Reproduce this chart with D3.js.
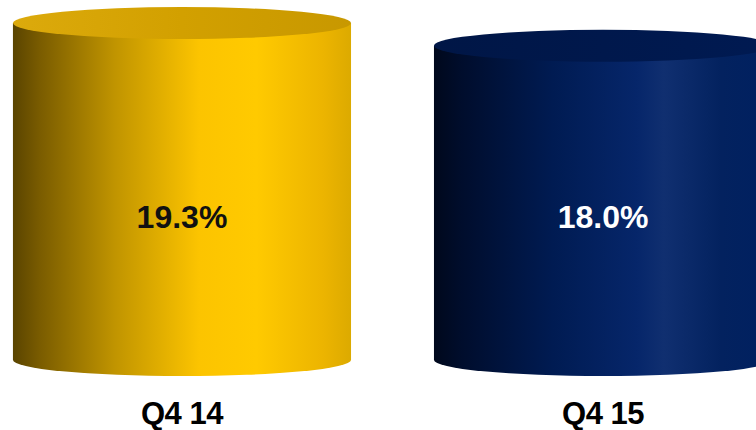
<!DOCTYPE html>
<html>
<head>
<meta charset="utf-8">
<script src="https://cdn.jsdelivr.net/npm/d3@7"></script>
<style>
  html, body { margin: 0; padding: 0; background: #ffffff; }
  svg { display: block; }
</style>
</head>
<body>
<svg id="chart" width="756" height="430"></svg>
<script>
// Quarter categories and their values (percent)
const categories = ["Q4 14", "Q4 15"];
const values = [19.3, 18.0];
const valueLabels = ["19.3%", "18.0%"];

const width = 756, height = 430;
const svg = d3.select("#chart");

// Horizontal placement of the cylinders
const x = d3.scaleBand()
  .domain(categories)
  .range([-70, 855])
  .paddingInner(0.197)
  .paddingOuter(0.197);

// Vertical scale: cylinder height is proportional to value
const y = d3.scaleLinear().domain([0, 20]).range([360, 10.8]);

const ry = 16; // ellipse radius for the cylinder caps

// Colour schemes per cylinder: side gradient stops and top cap colours
const themes = [
  {
    side: [[0, "#5a4400"], [0.08, "#7a5c00"], [0.3, "#c09400"], [0.55, "#fcc400"], [0.72, "#ffca00"], [0.92, "#ecb400"], [1, "#dcaa00"]],
    top: [[0, "#dcaa0c"], [0.5, "#d2a000"], [1, "#c89800"]],
    text: "#111111"
  },
  {
    side: [[0, "#00081c"], [0.08, "#000d2c"], [0.35, "#001b52"], [0.6, "#06266a"], [0.68, "#102f70"], [0.85, "#03225f"], [1, "#002060"]],
    top: [[0, "#001646"], [0.5, "#00184c"], [1, "#001a52"]],
    text: "#ffffff"
  }
];

const defs = svg.append("defs");
themes.forEach((t, i) => {
  const gs = defs.append("linearGradient").attr("id", "side" + i)
    .attr("x1", "0%").attr("x2", "100%").attr("y1", "0%").attr("y2", "0%");
  t.side.forEach(([o, c]) => gs.append("stop").attr("offset", o).attr("stop-color", c));
  const gt = defs.append("linearGradient").attr("id", "top" + i)
    .attr("x1", "0%").attr("x2", "100%").attr("y1", "0%").attr("y2", "0%");
  t.top.forEach(([o, c]) => gt.append("stop").attr("offset", o).attr("stop-color", c));
});

const data = categories.map((c, i) => ({ cat: c, value: values[i], label: valueLabels[i], i }));

const g = svg.selectAll("g.cyl").data(data).join("g").attr("class", "cyl");

// Cylinder body: side wall plus the rounded bottom
g.append("path")
  .attr("d", d => {
    const x0 = x(d.cat), x1 = x0 + x.bandwidth();
    const rx = x.bandwidth() / 2;
    const yt = y(d.value), yb = y(0);
    return `M${x0},${yt} L${x0},${yb} A${rx},${ry} 0 0 0 ${x1},${yb} L${x1},${yt} Z`;
  })
  .attr("fill", d => `url(#side${d.i})`);

// Top cap
g.append("ellipse")
  .attr("cx", d => x(d.cat) + x.bandwidth() / 2)
  .attr("cy", d => y(d.value))
  .attr("rx", x.bandwidth() / 2)
  .attr("ry", ry)
  .attr("fill", d => `url(#top${d.i})`);

// Value labels inside the cylinders
g.append("text")
  .attr("x", d => x(d.cat) + x.bandwidth() / 2)
  .attr("y", 228)
  .attr("text-anchor", "middle")
  .attr("font-family", "'Liberation Sans', Arial, sans-serif")
  .attr("font-weight", "bold")
  .attr("font-size", 32)
  .attr("fill", d => themes[d.i].text)
  .text(d => d.label);

// Category labels under the cylinders
g.append("text")
  .attr("x", d => x(d.cat) + x.bandwidth() / 2)
  .attr("y", 424)
  .attr("text-anchor", "middle")
  .attr("font-family", "'Liberation Sans', Arial, sans-serif")
  .attr("font-weight", "bold")
  .attr("font-size", 31)
  .attr("letter-spacing", -0.5)
  .attr("fill", "#000000")
  .text(d => d.cat);
</script>
</body>
</html>
